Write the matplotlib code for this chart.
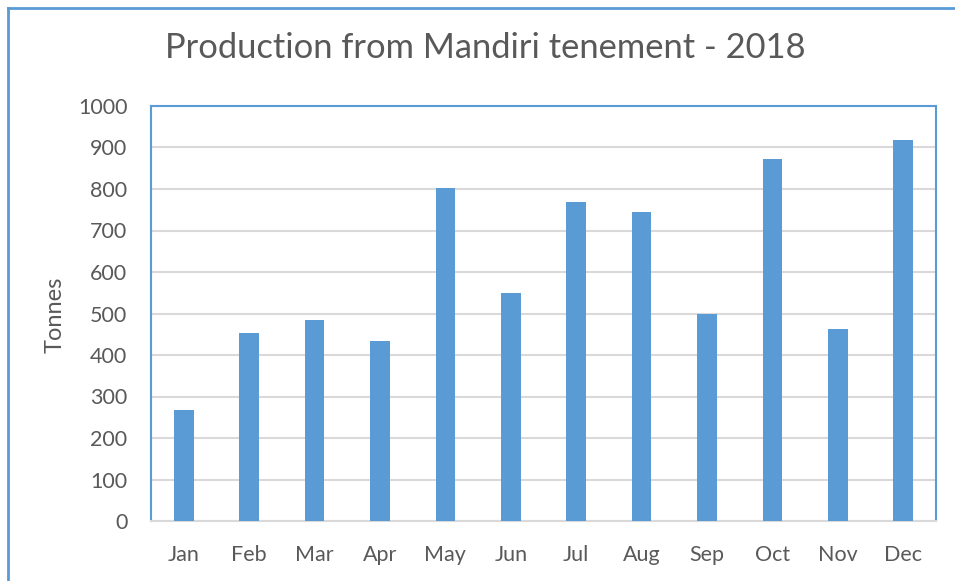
import matplotlib.pyplot as plt
import numpy as np

# production per month
months = ['Jan', 'Feb', 'Mar', 'Apr', 'May', 'Jun', 'Jul', 'Aug', 'Sep', 'Oct', 'Nov', 'Dec']
tonnes = [267, 453, 484, 434, 802, 549, 769, 745, 499, 872, 462, 917]
yticks = [0, 100, 200, 300, 400, 500, 600, 700, 800, 900, 1000]

blue = '#5b9bd5'
grey_text = '#595959'
plt.rcParams['font.family'] = ['Lato', 'DejaVu Sans']

W, H = 955, 581
fig = plt.figure(figsize=(W / 100, H / 100), dpi=100)
ax = fig.add_axes([151 / W, 1 - 521 / H, (936 - 151) / W, (521 - 106) / H])

x = np.arange(len(months))
ax.bar(x, tonnes, width=0.3, color=blue, zorder=3)
ax.set_xlim(-0.5, len(months) - 0.5)
ax.set_ylim(0, 1000)
ax.set_yticks(yticks)
ax.set_xticks(x)
ax.set_xticklabels(months)
ax.yaxis.grid(True, color='#d9d9d9', linewidth=1.5, zorder=0)
ax.tick_params(axis='both', length=0, labelsize=15.5, colors=grey_text)
ax.tick_params(axis='x', pad=17)
ax.tick_params(axis='y', pad=17)

for side in ['left', 'top', 'right']:
    ax.spines[side].set_color(blue)
    ax.spines[side].set_linewidth(1.5)
ax.spines['bottom'].set_color('#d9d9d9')
ax.spines['bottom'].set_linewidth(1.5)

ax.set_ylabel('Tonnes', fontsize=17, color=grey_text, va='center')
ax.yaxis.set_label_coords((55 - 151) / 785, (521 - 315) / 415)
fig.text(485 / W, 1 - 48 / H, 'Production from Mandiri tenement - 2018',
         fontsize=24.8, color=grey_text, ha='center', va='center')

# outer chart border (only left and top edges are in the screenshot)
fig.add_artist(plt.Line2D([7.5 / W, 7.5 / W], [0, 1 - 8 / H], transform=fig.transFigure, color=blue, linewidth=2))
fig.add_artist(plt.Line2D([7.5 / W, 1], [1 - 8 / H, 1 - 8 / H], transform=fig.transFigure, color=blue, linewidth=2))

fig.savefig('out.png', dpi=100)
